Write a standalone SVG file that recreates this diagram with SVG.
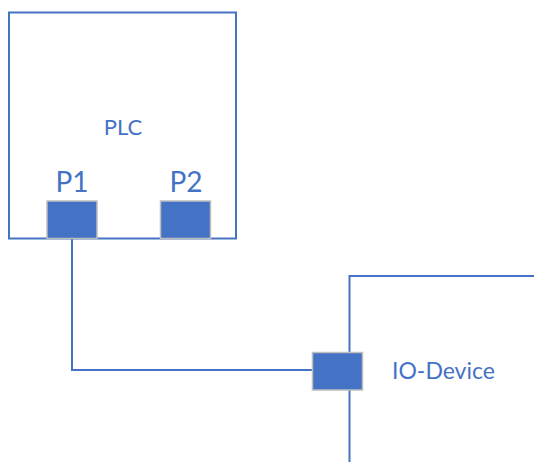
<svg xmlns="http://www.w3.org/2000/svg" width="534" height="462" viewBox="0 0 534 462">
<style>
.box{fill:none;stroke:#4472C4;stroke-width:2}
.port{fill:#4472C4;stroke:#BFBFBF;stroke-width:1.5}
.wire{fill:none;stroke:#4472C4;stroke-width:2}
text{font-family:Lato,"Open Sans","Liberation Sans",sans-serif;fill:#4472C4}
</style>
<rect width="534" height="462" fill="#ffffff"/>
<g id="plc">
<rect class="box" x="9" y="12.5" width="227" height="226"/>
<text x="123" y="135" font-size="22" text-anchor="middle">PLC</text>
</g>
<g id="io-device">
<rect class="box" x="349.5" y="276" width="200" height="200"/>
<text x="392" y="379" font-size="23">IO-Device</text>
</g>
<g id="connectors">
<polyline class="wire" points="72,239 72,370 312,370"/>
</g>
<g id="p1">
<rect class="port" x="47" y="201" width="50" height="37.5"/>
<text x="72" y="192" font-size="28" text-anchor="middle">P1</text>
</g>
<g id="p2">
<rect class="port" x="160.5" y="201" width="50" height="37.5"/>
<text x="186" y="192" font-size="28" text-anchor="middle">P2</text>
</g>
<g id="io-port">
<rect class="port" x="312.5" y="352.5" width="50" height="37.5"/>
</g>
</svg>
